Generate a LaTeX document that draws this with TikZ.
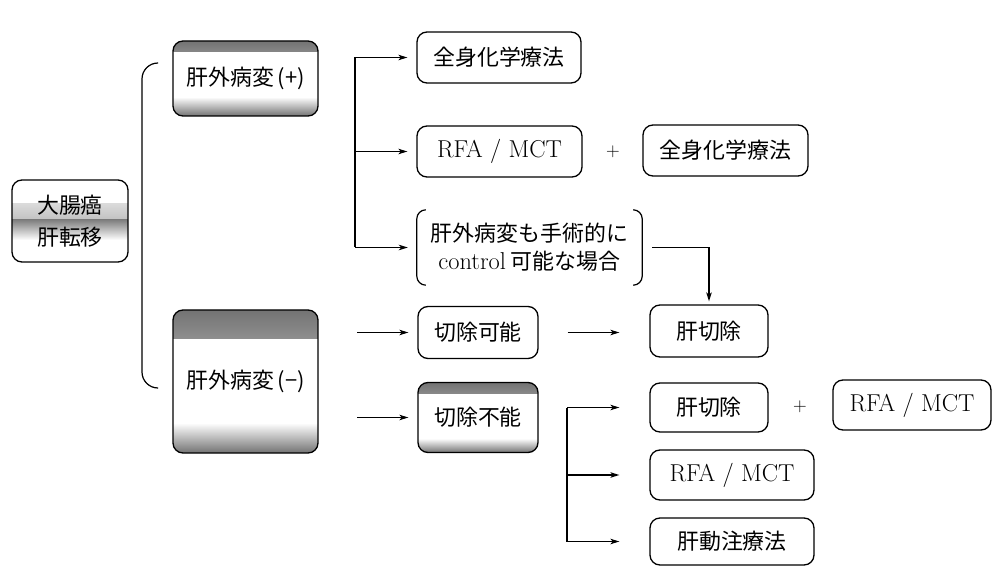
\documentclass[tikz,border=0pt]{standalone}
\usepackage{fontspec}
\newfontfamily\cjk{Noto Sans CJK JP}
\newcommand\jfont{\cjk\fontsize{22}{28}\selectfont}
\newcommand\lfont{\rmfamily\fontsize{24.5}{28}\selectfont}
\usetikzlibrary{arrows.meta}
\tikzset{
  box/.style={draw, line width=1.3bp, rounded corners=10bp, inner sep=0pt, align=center},
  arr/.style={line width=1.2bp, -{Stealth[length=9bp,width=5.5bp,inset=2.5bp]}},
  ln/.style={line width=1.2bp},
  plus/.style={font=\rmfamily\fontsize{19}{20}\selectfont, inner sep=0pt},
  tbband/.style 2 args={path picture={
    \fill[sharp corners, top color=black!55,bottom color=white] (path picture bounding box.north west) rectangle ([yshift=-#1]path picture bounding box.north east);
    \fill[sharp corners, top color=white,bottom color=black!55] ([yshift=#2]path picture bounding box.south west) rectangle (path picture bounding box.south east);
  }},
  midband/.style={path picture={
    \fill[sharp corners, top color=white,bottom color=black!50] ([yshift=-24bp]path picture bounding box.north west) rectangle ([yshift=-40bp]path picture bounding box.north east);
    \fill[sharp corners, top color=black!50,bottom color=white] ([yshift=-40bp]path picture bounding box.north west) rectangle ([yshift=-60bp]path picture bounding box.north east);
  }},
}
\begin{document}
\begin{tikzpicture}[x=1bp,y=-1bp]
\useasboundingbox (0,0) rectangle (993,566);

% left root
\node[box, midband, minimum width=116bp, minimum height=82bp, font=\cjk\fontsize{22}{32}\selectfont] (root) at (70,221) {大腸癌\\肝転移};

% second level
\node[box, tbband={11bp}{19bp}, minimum width=145bp, minimum height=75bp, font=\jfont] (pos) at (245.5,78.5) {肝外病変\,(+)};
\node[box, tbband={28bp}{30bp}, minimum width=145bp, minimum height=143bp, font=\jfont] (neg) at (245.5,381.5) {肝外病変\,(−)};

% bracket
\coordinate (bt) at (158,63);
\coordinate (bb) at (158,388);
\draw[ln, rounded corners=16bp] (bt) -- (142,63) -- (142,388) -- (bb);

% upper group
\node[box, minimum width=164bp, minimum height=51bp, font=\jfont] (z1) at (499,57.5) {全身化学療法};
\node[box, minimum width=165bp, minimum height=51bp, font=\lfont] (rfa1) at (499.5,151.5) {RFA / MCT};
\node[plus] (p1) at (613,152) {+};
\node[box, minimum width=165bp, minimum height=51bp, font=\jfont] (z2) at (725.5,150.5) {全身化学療法};
\node[inner sep=0pt, minimum width=225bp, minimum height=75bp, align=center, font=\jfont] (pc) at (529.5,247.5) {肝外病変も手術的に\\{\lfont control} 可能な場合};
\draw[ln, rounded corners=9bp] ([xshift=9bp]pc.north west) -- (pc.north west) -- (pc.south west) -- ([xshift=9bp]pc.south west);
\draw[ln, rounded corners=9bp] ([xshift=-9bp]pc.north east) -- (pc.north east) -- (pc.south east) -- ([xshift=-9bp]pc.south east);

\coordinate (tx) at (355,0);
\draw[ln] (tx |- z1.west) -- (tx |- pc.west);
\draw[arr, shorten >=9bp] (tx |- z1.west) -- (z1.west);
\draw[arr, shorten >=9bp] (tx |- rfa1.west) -- (rfa1.west);
\draw[arr, shorten >=9bp] (tx |- pc.west) -- (pc.west);

% lower group
\node[box, minimum width=120bp, minimum height=52bp, font=\jfont] (kanoh) at (478,332.5) {切除可能};
\node[box, tbband={11bp}{14bp}, minimum width=120bp, minimum height=70bp, font=\jfont] (funoh) at (478,417.5) {切除不能};
\node[box, minimum width=118bp, minimum height=52bp, font=\jfont] (kan1) at (709,331) {肝切除};
\node[box, minimum width=118bp, minimum height=49bp, font=\jfont] (kan2) at (709,407.5) {肝切除};
\node[plus] (p2) at (800,407) {+};
\node[box, minimum width=158bp, minimum height=50bp, font=\lfont] (rfa3) at (912,405) {RFA / MCT};
\node[box, minimum width=164bp, minimum height=50bp, font=\lfont] (rfa2) at (732,475) {RFA / MCT};
\node[box, minimum width=164bp, minimum height=47bp, font=\jfont] (dou) at (732,541.5) {肝動注療法};

\draw[arr, shorten <=10bp, shorten >=3bp] (pc.east) -| (kan1.north);

\coordinate (mx) at (357,0);
\draw[arr, shorten >=9bp] (mx |- kanoh.west) -- (kanoh.west);
\draw[arr, shorten >=9bp] (mx |- funoh.west) -- (funoh.west);
\draw[arr, shorten <=29bp, shorten >=30bp] (kanoh.east) -- (kanoh.east -| kan1.west);

\coordinate (lx) at (567,0);
\draw[ln] (lx |- kan2.west) -- (lx |- dou.west);
\draw[arr, shorten >=30bp] (lx |- kan2.west) -- (kan2.west);
\draw[arr, shorten >=30bp] (lx |- rfa2.west) -- (rfa2.west);
\draw[arr, shorten >=30bp] (lx |- dou.west) -- (dou.west);
\end{tikzpicture}
\end{document}
